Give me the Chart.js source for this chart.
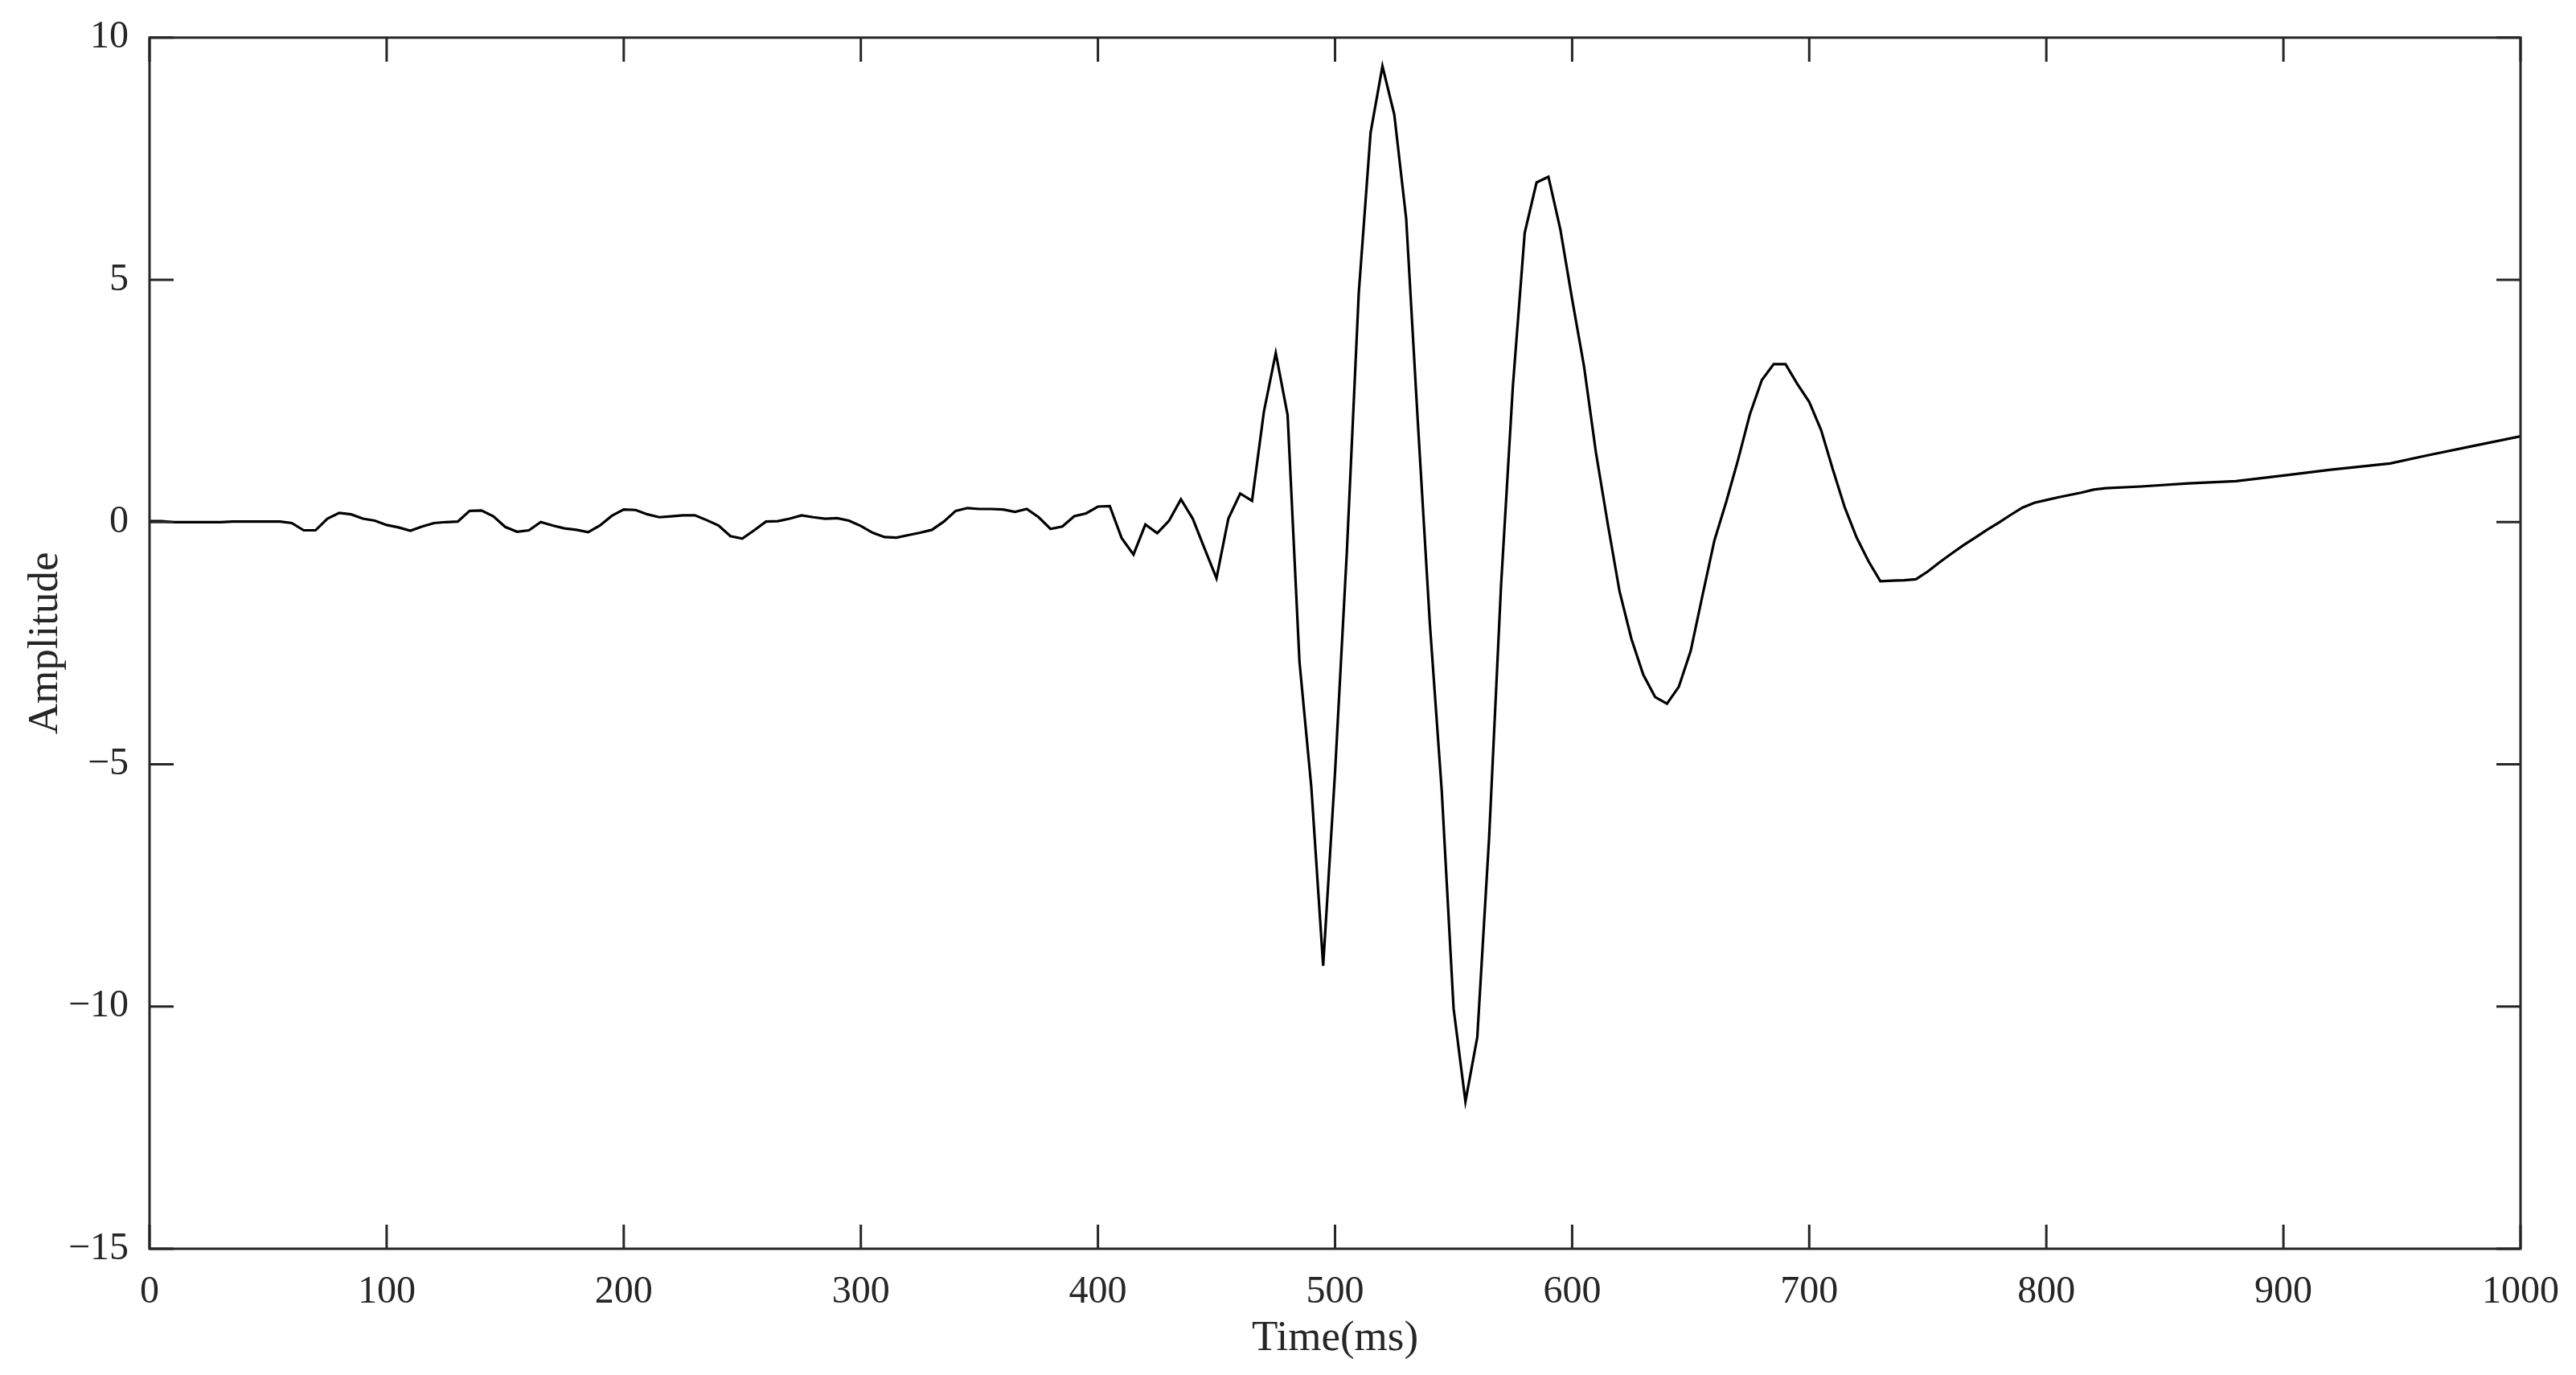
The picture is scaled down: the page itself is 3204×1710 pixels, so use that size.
<!DOCTYPE html>
<html>
<head>
<meta charset="utf-8">
<script src="https://cdn.jsdelivr.net/npm/chart.js@4.4.1/dist/chart.umd.min.js"></script>
<style>
  html, body { margin: 0; padding: 0; background: #fff; }
  #wrap { width: 3204px; height: 1710px; position: relative; }
</style>
</head>
<body>
<div id="wrap"><canvas id="trace"></canvas></div>
<script>
// sample times (ms) and amplitudes
var timeMs = [
  0, 5, 10, 15, 20, 25, 30, 35, 40, 45, 50, 55, 60, 65, 70, 75, 80, 85, 90, 95,
  100, 105, 110, 115, 120, 125, 130, 135, 140, 145, 150, 155, 160, 165, 170, 175, 180, 185, 190, 195,
  200, 205, 210, 215, 220, 225, 230, 235, 240, 245, 250, 255, 260, 265, 270, 275, 280, 285, 290, 295,
  300, 305, 310, 315, 320, 325, 330, 335, 340, 345, 350, 355, 360, 365, 370, 375, 380, 385, 390, 395,
  400, 405, 410, 415, 420, 425, 430, 435, 440, 445, 450, 455, 460, 465, 470, 475, 480, 485, 490, 495,
  500, 505, 510, 515, 520, 525, 530, 535, 540, 545, 550, 555, 560, 565, 570, 575, 580, 585, 590, 595,
  600, 605, 610, 615, 620, 625, 630, 635, 640, 645, 650, 655, 660, 665, 670, 675, 680, 685, 690, 695,
  700, 705, 710, 715, 720, 725, 730, 735, 740, 745, 750, 755, 760, 765, 770, 775, 780, 785, 790, 795,
  800, 805, 810, 815, 820, 825, 840, 860, 880, 900, 920, 945, 960, 980, 1000
];
var amplitude = [
  0.02, 0.02, 0.0, 0.0, 0.0, 0.0, 0.0, 0.01, 0.01, 0.01, 0.01, 0.01, -0.02, -0.17, -0.17, 0.07, 0.19, 0.16, 0.07, 0.03,
  -0.06, -0.11, -0.18, -0.09, -0.02, 0.0, 0.01, 0.23, 0.24, 0.12, -0.10, -0.20, -0.17, 0.0, -0.07, -0.13, -0.16, -0.21, -0.07, 0.13,
  0.26, 0.25, 0.16, 0.10, 0.12, 0.14, 0.14, 0.04, -0.07, -0.29, -0.34, -0.17, 0.01, 0.02, 0.07, 0.14, 0.10, 0.07, 0.08, 0.03,
  -0.08, -0.22, -0.31, -0.32, -0.27, -0.22, -0.16, 0.01, 0.23, 0.29, 0.27, 0.27, 0.26, 0.21, 0.27, 0.10, -0.14, -0.09, 0.12, 0.18,
  0.32, 0.33, -0.33, -0.67, -0.05, -0.23, 0.03, 0.47, 0.07, -0.55, -1.16, 0.07, 0.59, 0.44, 2.28, 3.49, 2.21, -2.88, -5.47, -9.16,
  -5.17, -0.60, 4.72, 8.04, 9.41, 8.41, 6.27, 2.00, -2.10, -5.54, -10.04, -11.96, -10.63, -6.50, -1.33, 2.80, 5.97, 7.01, 7.13, 6.05,
  4.60, 3.22, 1.45, -0.03, -1.43, -2.41, -3.15, -3.61, -3.75, -3.40, -2.66, -1.51, -0.38, 0.42, 1.29, 2.23, 2.93, 3.26, 3.26, 2.85,
  2.48, 1.90, 1.08, 0.30, -0.32, -0.81, -1.22, -1.21, -1.20, -1.18, -1.02, -0.83, -0.65, -0.48, -0.32, -0.16, -0.01, 0.15, 0.30, 0.40,
  0.455, 0.51, 0.56, 0.61, 0.67, 0.70, 0.735, 0.80, 0.845, 0.96, 1.08, 1.21, 1.37, 1.57, 1.77
];
var xTicks = [0, 100, 200, 300, 400, 500, 600, 700, 800, 900, 1000];
var yTicks = [-15, -10, -5, 0, 5, 10];

;(function() {
  var INK = '#262626';
  var TICK_LEN = 30;

  var points = timeMs.map(function(t, i) { return { x: t, y: amplitude[i] }; });

  // MATLAB style box with inward ticks on all four sides
  var boxTicks = {
    id: 'boxTicks',
    afterDraw: function(chart) {
      var ctx = chart.ctx, a = chart.chartArea;
      var xs = chart.scales.x, ys = chart.scales.y;
      ctx.save();
      ctx.strokeStyle = INK;
      ctx.lineWidth = 3;
      ctx.beginPath();
      xTicks.forEach(function(v) {
        var px = xs.getPixelForValue(v);
        ctx.moveTo(px, a.bottom); ctx.lineTo(px, a.bottom - TICK_LEN);
        ctx.moveTo(px, a.top); ctx.lineTo(px, a.top + TICK_LEN);
      });
      yTicks.forEach(function(v) {
        var py = ys.getPixelForValue(v);
        ctx.moveTo(a.left, py); ctx.lineTo(a.left + TICK_LEN, py);
        ctx.moveTo(a.right, py); ctx.lineTo(a.right - TICK_LEN, py);
      });
      ctx.stroke();
      ctx.strokeRect(a.left, a.top, a.right - a.left, a.bottom - a.top);
      ctx.restore();
    }
  };

  var tickFont = { family: '"Liberation Serif", "Times New Roman", serif', size: 48 };
  var titleFont = { family: '"Liberation Serif", "Times New Roman", serif', size: 53 };

  new Chart(document.getElementById('trace'), {
    type: 'line',
    data: {
      datasets: [{
        data: points,
        borderColor: '#000',
        borderWidth: 3.2,
        pointRadius: 0,
        tension: 0,
        fill: false
      }]
    },
    options: {
      responsive: true,
      maintainAspectRatio: false,
      animation: false,
      events: [],
      layout: { padding: { top: 39, right: 69, left: 0, bottom: 0 } },
      plugins: { legend: { display: false }, tooltip: { enabled: false } },
      scales: {
        x: {
          type: 'linear', min: 0, max: 1000,
          afterFit: function(s) { s.height = 157; },
          afterBuildTicks: function(s) { s.ticks = xTicks.map(function(v) { return { value: v }; }); },
          grid: { display: false },
          border: { display: false },
          ticks: {
            color: INK, font: tickFont, padding: 18, maxRotation: 0,
            callback: function(v) { return String(v); }
          },
          title: { display: true, text: 'Time(ms)', color: INK, font: titleFont, padding: { top: 0, bottom: 13 } }
        },
        y: {
          type: 'linear', min: -15, max: 10,
          afterFit: function(s) { s.width = 186; },
          afterBuildTicks: function(s) { s.ticks = yTicks.map(function(v) { return { value: v }; }); },
          grid: { display: false },
          border: { display: false },
          ticks: {
            color: INK, font: tickFont, padding: 18,
            callback: function(v) { return String(v).replace('-', '\u2212'); }
          },
          title: { display: true, text: 'Amplitude', color: INK, font: titleFont, padding: { top: 25, bottom: 0 } }
        }
      }
    },
    plugins: [boxTicks]
  });
})();
</script>
</body>
</html>
